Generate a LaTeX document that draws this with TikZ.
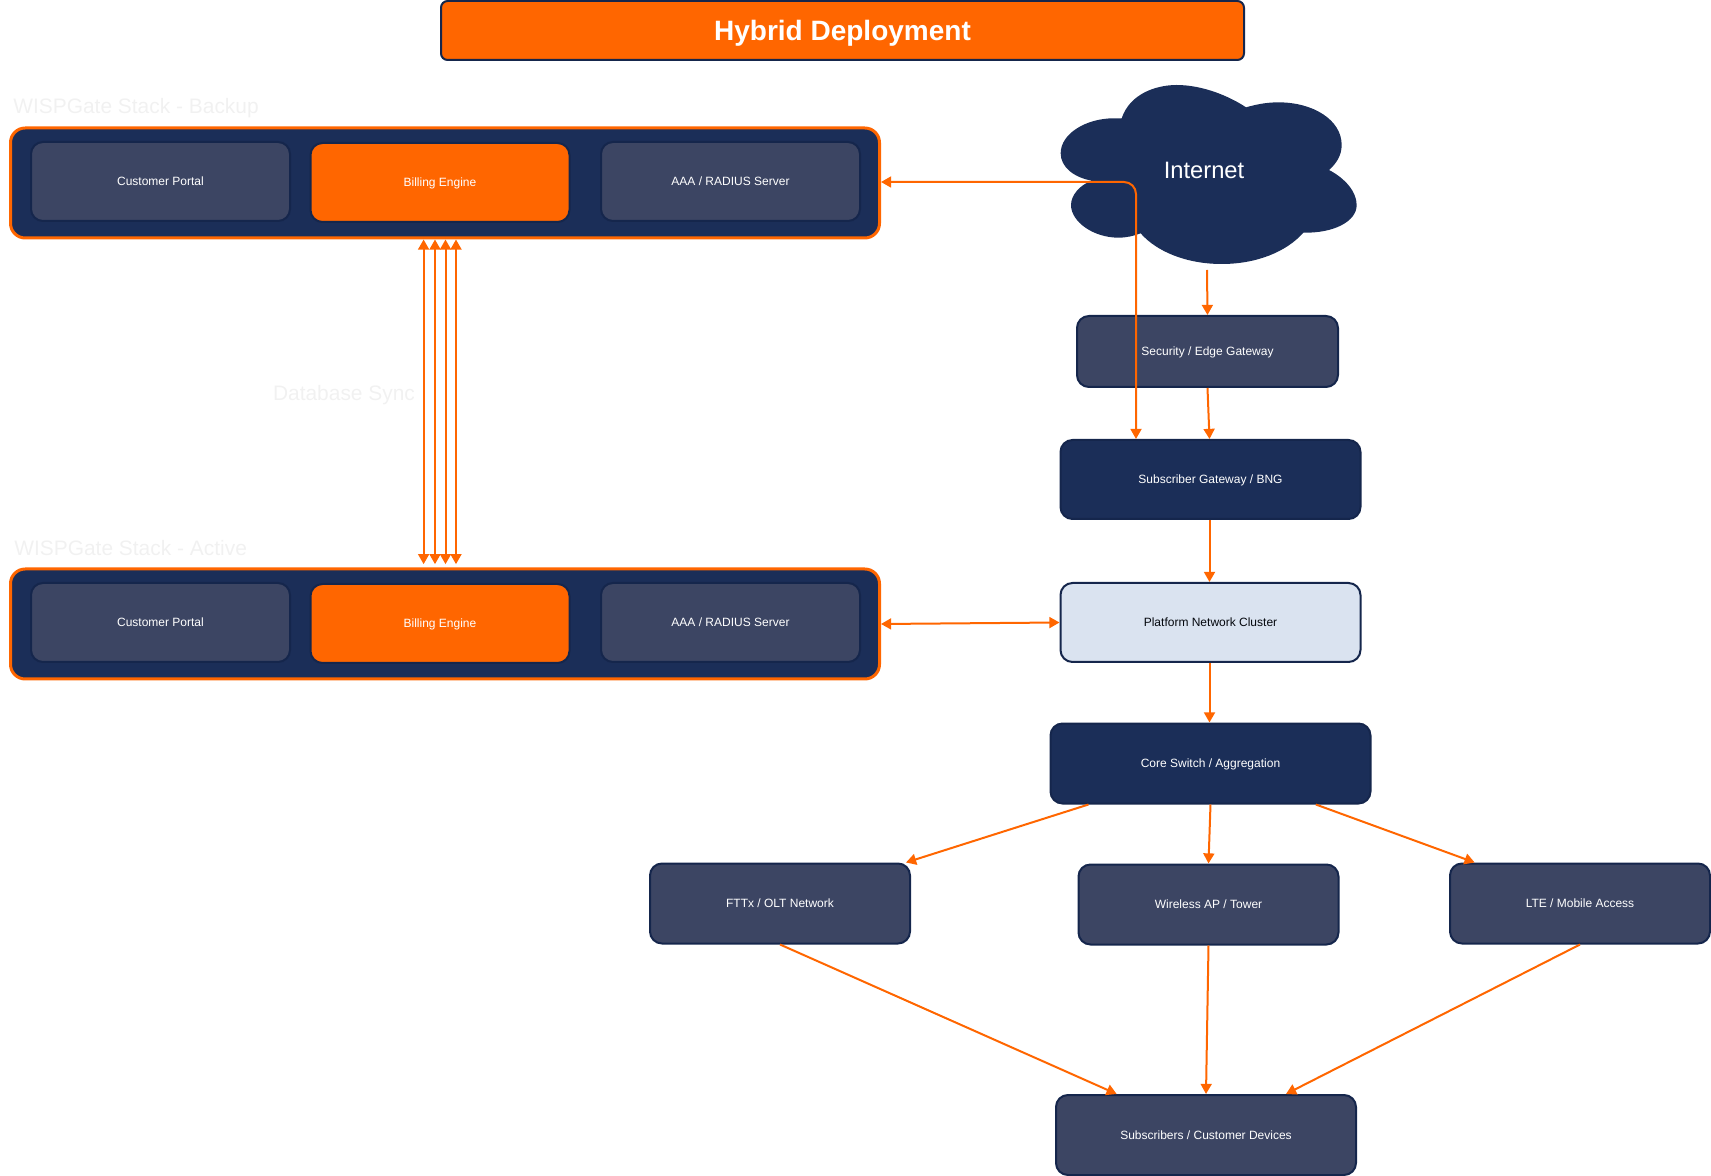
\documentclass[tikz,border=0pt]{standalone}
\usepackage{fontspec}
\setmainfont{Liberation Sans}
\usetikzlibrary{arrows.meta}
\definecolor{navy}{HTML}{1B2E58}
\definecolor{edge}{HTML}{15264C}
\definecolor{slate}{HTML}{3C4563}
\definecolor{tone}{HTML}{FF6600}
\definecolor{pale}{HTML}{DAE3F0}
\definecolor{ghost}{HTML}{F1F1F1}

\begin{document}
\begin{tikzpicture}[x=0.75pt, y=-0.75pt,
    sz/.style 2 args={minimum width=#1*0.75pt, minimum height=#2*0.75pt, inner sep=0pt},
    dn/.style={text depth=0pt},
    main/.style={draw=edge, rounded corners=9pt, line width=1.5pt, text=white, font=\fontsize{9}{11}\selectfont},
    dark/.style={main, fill=navy},
    mid/.style={main, fill=slate},
    hot/.style={main, fill=tone, text=white},
    light/.style={main, fill=pale, text=black!85!navy},
    stack/.style={draw=tone, fill=navy, rounded corners=11pt, line width=2.25pt},
    tag/.style={text=ghost, inner sep=0pt, font=\fontsize{15.7}{18}\selectfont},
    n/.style={-{Triangle[width=8.2pt, length=7.6pt]}, tone, line width=1.5pt},
    b/.style={{Triangle[width=8.2pt, length=7.6pt]}-{Triangle[width=8.2pt, length=7.6pt]}, tone, line width=1.5pt}]
    \useasboundingbox (0,0) rectangle (1711,1176);
    % title
    \node[main, dn, fill=tone, sz={803}{59}, rounded corners=5pt, font=\bfseries\fontsize{21}{25}\selectfont] (title) at (842.5,30.5) {Hybrid Deployment};
    % cloud
    \begin{scope}[shift={(1030,70)}, x=0.25pt, y=-0.25pt]
        \fill[navy] (275,145) .. controls (300,70) and (380,45) .. (440,45)
            .. controls (520,45) and (600,80) .. (648,112)
            .. controls (680,103) and (710,97) .. (745,97)
            .. controls (850,97) and (935,150) .. (935,225)
            .. controls (935,255) and (920,280) .. (897,300)
            .. controls (945,325) and (980,365) .. (980,405)
            .. controls (980,455) and (910,490) .. (820,488)
            .. controls (770,545) and (680,582) .. (575,582)
            .. controls (470,582) and (380,545) .. (332,490)
            .. controls (310,498) and (290,503) .. (265,503)
            .. controls (190,503) and (123,455) .. (123,405)
            .. controls (123,375) and (150,345) .. (185,332)
            .. controls (130,322) and (92,290) .. (92,250)
            .. controls (92,190) and (170,145) .. (250,145)
            .. controls (258,145) and (267,145) .. (275,145) -- cycle;
    \end{scope}
    \node[text=white, inner sep=0pt, font=\fontsize{17.8}{21}\selectfont] (inet) at (1204,170) {Internet};
    \coordinate (inetout) at (1207,270);
    % backup stack
    \node[tag, anchor=west] (baktag) at (13,108.5) {WISPGate Stack - Backup};
    \node[stack, sz={869}{110}] (bak) at (445,183) {};
    \node[mid, sz={259}{79}] (bakcp) at (160.5,181.5) {Customer Portal};
    \node[hot, dn, sz={259}{79}] (bakbe) at (440,182.5) {Billing Engine};
    \node[mid, sz={259}{79}] (bakaaa) at (730.5,181.5) {AAA / RADIUS Server};
    % active stack
    \node[tag, anchor=west] (acttag) at (14,548.5) {WISPGate Stack - Active};
    \node[stack, sz={869}{110}] (act) at (445,624) {};
    \node[mid, sz={259}{79}] (actcp) at (160.5,622.5) {Customer Portal};
    \node[hot, dn, sz={259}{79}] (actbe) at (440,623.5) {Billing Engine};
    \node[mid, sz={259}{79}] (actaaa) at (730.5,622.5) {AAA / RADIUS Server};
    \node[tag] (sync) at (344,395) {Database Sync};
    % right column
    \node[mid, dn, sz={261}{71}] (sec) at (1207.5,351.5) {Security / Edge Gateway};
    \node[dark, dn, sz={300}{79}] (bng) at (1210.5,479.5) {Subscriber Gateway / BNG};
    \node[light, sz={300}{79}] (plat) at (1210.5,622.5) {Platform Network Cluster};
    \node[dark, dn, sz={320}{80}] (core) at (1210.5,763.5) {Core Switch / Aggregation};
    \node[mid, sz={260}{80}] (ftt) at (780,903.5) {FTTx / OLT Network};
    \node[mid, sz={260}{80}] (wap) at (1208.5,904.5) {Wireless AP / Tower};
    \node[mid, sz={260}{80}] (lte) at (1580,903.5) {LTE / Mobile Access};
    \node[mid, sz={300}{80}] (sub) at (1206,1135) {Subscribers / Customer Devices};
    % edges
    \foreach \s in {-21.4,-10,0.5,11}
        \draw[b, shorten >=2.5pt] ([xshift=\s*0.75pt]bak.south) -- ([xshift=\s*0.75pt]act.north);
    \draw[b, rounded corners=9pt] ([yshift=0.75pt]bak.east) -- (1136,182) -- (1136,439);
    \draw[n] (inetout) -- (sec.north);
    \draw[n] (sec.south) -- ([xshift=-0.75pt]bng.north);
    \draw[n] ([xshift=-0.75pt]bng.south) -- ([xshift=-0.75pt]plat.north);
    \draw[b] (act.east) -- (plat.west);
    \draw[n] ([xshift=-0.75pt]plat.south) -- ([xshift=-0.75pt]core.north);
    \draw[n] ([xshift=-91.5pt]core.south) -- ([xshift=94.5pt]ftt.north);
    \draw[n] (core.south) -- (wap.north);
    \draw[n] ([xshift=79pt]core.south) -- ([xshift=-79pt]lte.north);
    \draw[n] (ftt.south) -- ([xshift=-67pt]sub.north);
    \draw[n] (wap.south) -- (sub.north);
    \draw[n] (lte.south) -- ([xshift=60pt]sub.north);
\end{tikzpicture}
\end{document}
